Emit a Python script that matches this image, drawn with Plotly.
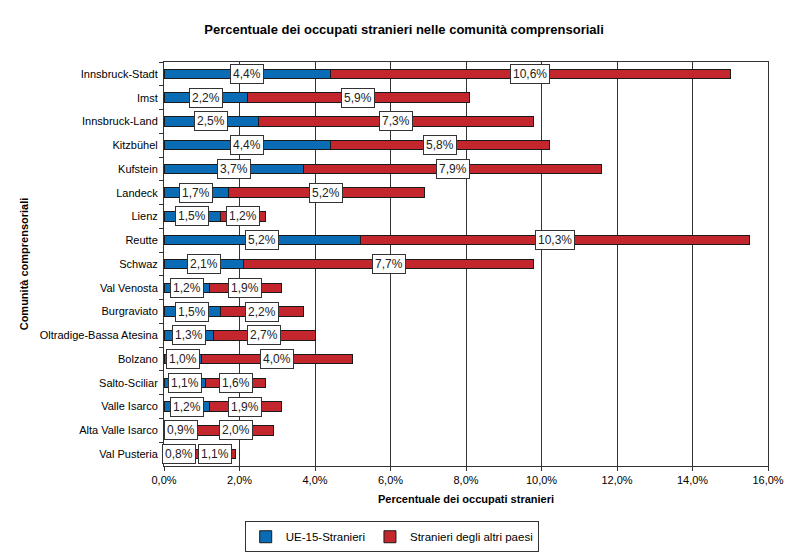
import plotly.graph_objects as go

categories = ["Innsbruck-Stadt", "Imst", "Innsbruck-Land", "Kitzbühel", "Kufstein",
              "Landeck", "Lienz", "Reutte", "Schwaz", "Val Venosta", "Burgraviato",
              "Oltradige-Bassa Atesina", "Bolzano", "Salto-Sciliar", "Valle Isarco",
              "Alta Valle Isarco", "Val Pusteria"]
ue15 = [4.4, 2.2, 2.5, 4.4, 3.7, 1.7, 1.5, 5.2, 2.1, 1.2, 1.5, 1.3, 1.0, 1.1, 1.2, 0.9, 0.8]
altri = [10.6, 5.9, 7.3, 5.8, 7.9, 5.2, 1.2, 10.3, 7.7, 1.9, 2.2, 2.7, 4.0, 1.6, 1.9, 2.0, 1.1]
xticks = [0, 2, 4, 6, 8, 10, 12, 14, 16]
xtick_labels = ["0,0%", "2,0%", "4,0%", "6,0%", "8,0%", "10,0%", "12,0%", "14,0%", "16,0%"]

BLUE = "#0A6CB4"
RED = "#C4262E"
FONT = "Liberation Sans, Arial, sans-serif"

fig = go.Figure()
fig.add_trace(go.Bar(y=categories, x=ue15, orientation="h", name="UE-15-Stranieri",
                     marker=dict(color=BLUE, line=dict(color="#1a1a1a", width=1)), width=0.4))
fig.add_trace(go.Bar(y=categories, x=altri, orientation="h", name="Stranieri degli altri paesi",
                     marker=dict(color=RED, line=dict(color="#1a1a1a", width=1)), width=0.4))

def fmt(v):
    return f"{v:.1f}".replace(".", ",") + "%"

annotations = []
for c, a, b in zip(categories, ue15, altri):
    for xc, v in ((a / 2, a), (a + b / 2, b)):
        annotations.append(dict(x=xc, y=c, text=fmt(v), showarrow=False, xref="x", yref="y",
                                bgcolor="white", bordercolor="#333333", borderwidth=1, borderpad=2,
                                font=dict(family=FONT, size=12, color="#222")))

fig.update_layout(
    barmode="stack",
    width=792, height=546,
    margin=dict(l=156, r=32, t=54, b=88),
    paper_bgcolor="white", plot_bgcolor="white",
    font=dict(family=FONT, size=11, color="black"),
    title=dict(text="<b>Percentuale dei occupati stranieri nelle comunità comprensoriali</b>",
               x=0.5, xanchor="center", y=0.96, yanchor="middle",
               font=dict(family=FONT, size=13, color="black")),
    xaxis=dict(range=[0, 16], tickvals=xticks, ticktext=xtick_labels,
               showgrid=True, gridcolor="#333333", gridwidth=1,
               showline=True, linecolor="#333333", mirror=True,
               ticks="outside", ticklen=4, tickcolor="#333333",
               tickfont=dict(size=11), zeroline=False, automargin=False,
               title=dict(text="<b>Percentuale dei occupati stranieri</b>", standoff=10,
                          font=dict(size=11))),
    yaxis=dict(categoryorder="array", categoryarray=categories, autorange="reversed",
               showline=True, linecolor="#333333", mirror=True,
               ticks="outside", ticklen=4, tickcolor="#333333", tickson="boundaries",
               ticklabelstandoff=3,
               tickfont=dict(size=11), showgrid=False, automargin=False,
               title=dict(text="<b>Comunità comprensoriali</b>", standoff=8,
                          font=dict(size=11))),
    legend=dict(orientation="h", x=0.377, xanchor="center",
                yref="container", y=0.06, yanchor="top",
                bordercolor="#333333", borderwidth=1, font=dict(size=11.5),
                itemwidth=30, traceorder="normal"),
    annotations=annotations,
)

fig.write_html("out.html")
